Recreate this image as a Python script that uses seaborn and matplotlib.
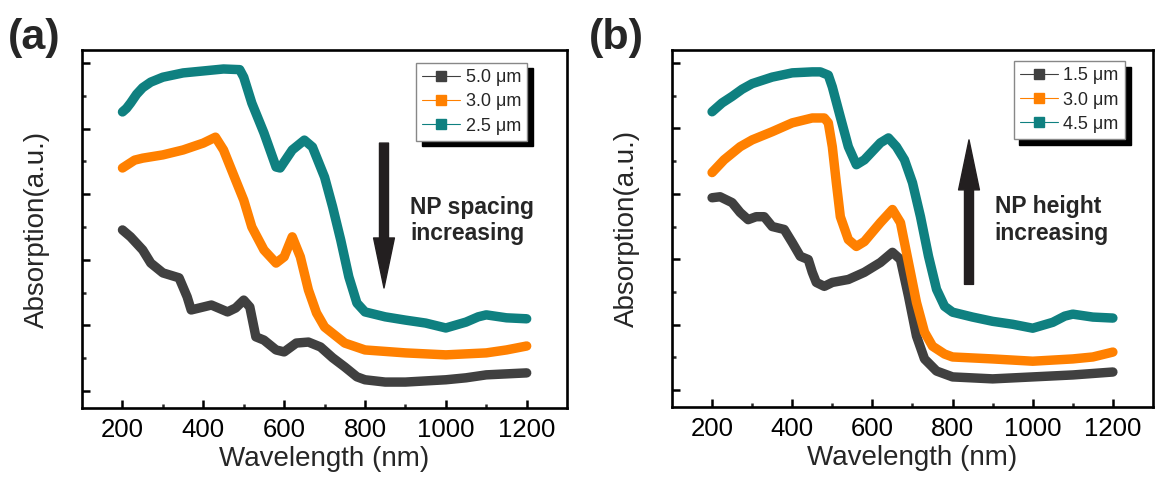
import numpy as np
import pandas as pd
import matplotlib.pyplot as plt
from matplotlib.lines import Line2D
import seaborn as sns

# ── Data (arbitrary absorption units) ────────────────────────────────────────
# panel (a): NP spacing series
A_DARK_NM = [200, 220, 250, 270, 300, 340, 360, 370, 400, 420, 460, 480, 500, 515, 530,
             550, 580, 600, 630, 660, 690, 720, 750, 780, 800, 850, 900, 1000, 1050, 1100, 1200]
A_DARK_Y = [4.91, 4.70, 4.30, 3.90, 3.60, 3.45, 2.87, 2.47, 2.56, 2.62, 2.41, 2.53, 2.77, 2.56, 1.65,
            1.55, 1.25, 1.19, 1.46, 1.49, 1.34, 1.01, 0.73, 0.43, 0.34, 0.27, 0.27, 0.34, 0.40, 0.49, 0.55]

A_ORANGE_NM = [200, 230, 250, 300, 350, 400, 430, 450, 480, 500, 520, 550, 580, 600, 620,
               640, 660, 680, 700, 750, 800, 900, 1000, 1100, 1150, 1200]
A_ORANGE_Y = [6.80, 7.04, 7.10, 7.20, 7.35, 7.56, 7.74, 7.35, 6.43, 5.82, 5.00, 4.30, 3.90, 4.09, 4.70,
              4.09, 3.08, 2.38, 1.95, 1.46, 1.25, 1.16, 1.10, 1.16, 1.25, 1.37]

A_TEAL_NM = [200, 210, 220, 235, 250, 270, 300, 350, 400, 450, 490, 500, 520, 550, 580, 590, 620, 650, 670,
             700, 720, 740, 760, 780, 800, 850, 900, 950, 1000, 1050, 1080, 1100, 1150, 1200]
A_TEAL_Y = [8.51, 8.62, 8.78, 9.05, 9.25, 9.42, 9.57, 9.70, 9.76, 9.82, 9.80, 9.57, 8.78, 7.87, 6.83, 6.80, 7.35, 7.65, 7.44,
            6.52, 5.61, 4.60, 3.48, 2.68, 2.41, 2.26, 2.16, 2.07, 1.92, 2.10, 2.26, 2.32, 2.23, 2.20]

# panel (b): NP height series
B_DARK_NM = [200, 220, 250, 270, 290, 310, 330, 350, 380, 400, 420, 440, 450, 460, 480, 500, 540,
             580, 620, 650, 670, 690, 710, 730, 760, 800, 900, 1000, 1100, 1200]
B_DARK_Y = [5.88, 5.91, 5.73, 5.43, 5.21, 5.30, 5.30, 5.00, 4.91, 4.51, 4.09, 3.99, 3.60, 3.29, 3.17, 3.29, 3.38,
            3.60, 3.90, 4.21, 3.99, 2.87, 1.65, 0.95, 0.58, 0.40, 0.34, 0.40, 0.46, 0.55]

B_ORANGE_NM = [200, 230, 270, 300, 350, 400, 450, 480, 490, 500, 510, 520, 540, 560, 580, 620, 650,
               670, 690, 710, 730, 750, 780, 800, 900, 1000, 1100, 1150, 1200]
B_ORANGE_Y = [6.65, 7.04, 7.44, 7.65, 7.90, 8.17, 8.32, 8.32, 8.17, 7.44, 6.34, 5.30, 4.60, 4.39, 4.54, 5.12, 5.52,
              5.12, 3.90, 2.68, 1.77, 1.34, 1.10, 1.01, 0.95, 0.88, 0.95, 1.01, 1.16]

B_TEAL_NM = [200, 225, 250, 275, 300, 350, 400, 450, 470, 490, 500, 520, 540, 560, 580, 620, 640, 660, 680,
             700, 720, 740, 760, 780, 800, 850, 900, 950, 1000, 1050, 1080, 1100, 1150, 1200]
B_TEAL_Y = [8.51, 8.78, 8.98, 9.20, 9.37, 9.57, 9.70, 9.73, 9.73, 9.63, 9.27, 8.35, 7.44, 6.89, 7.04, 7.56, 7.71, 7.44, 7.04,
            6.34, 5.30, 4.09, 3.08, 2.56, 2.38, 2.23, 2.10, 2.01, 1.89, 2.07, 2.26, 2.32, 2.23, 2.20]

A_LABELS = ["5.0 μm", "3.0 μm", "2.5 μm"]
B_LABELS = ["1.5 μm", "3.0 μm", "4.5 μm"]
COLORS = ["#404040", "#ff8000", "#0f8080"]

X_TICKS = [200, 400, 600, 800, 1000, 1200]


def long_frame(series, labels):
    rows = []
    for (nm, y), lab in zip(series, labels):
        rows.append(pd.DataFrame({"nm": nm, "absorption": y, "series": lab}))
    return pd.concat(rows, ignore_index=True)


sns.set_theme(style="ticks")
plt.rcParams["font.family"] = ["Liberation Sans", "DejaVu Sans"]

fig = plt.figure(figsize=(11.59, 4.88), dpi=100)
ax_a = fig.add_axes([0.0708, 0.164, 0.4185, 0.7336])
ax_b = fig.add_axes([0.5798, 0.166, 0.4150, 0.7316])

panels = [
    (ax_a, [(A_DARK_NM, A_DARK_Y), (A_ORANGE_NM, A_ORANGE_Y), (A_TEAL_NM, A_TEAL_Y)], A_LABELS,
     (0.918, 0.964), 847, (7.56, 3.14), 912, "NP spacing\nincreasing"),
    (ax_b, [(B_DARK_NM, B_DARK_Y), (B_ORANGE_NM, B_ORANGE_Y), (B_TEAL_NM, B_TEAL_Y)], B_LABELS,
     (0.942, 0.969), 841, (3.23, 7.65), 905, "NP height\nincreasing"),
]

for ax, series, labels, leg_anchor, arrow_x, (y_from, y_to), text_x, text in panels:
    df = long_frame(series, labels)
    sns.lineplot(data=df, x="nm", y="absorption", hue="series", hue_order=labels,
                 palette=COLORS, linewidth=6.8, estimator=None, sort=True,
                 legend=False, ax=ax)

    ax.set_xlim(100, 1300)
    ax.set_ylim(-0.52, 10.4)
    ax.set_xticks(X_TICKS)
    ax.set_xticks(np.arange(300, 1200, 200), minor=True)
    ax.set_yticks(np.arange(0, 11, 2))
    ax.set_yticks(np.arange(1, 10, 2), minor=True)
    ax.set_yticklabels([])
    ax.tick_params(which="major", direction="in", length=6, width=1.8,
                   labelsize=18.5, pad=7, colors="black")
    ax.tick_params(which="minor", direction="in", length=3, width=1.8)
    for sp in ax.spines.values():
        sp.set_visible(True)
        sp.set_linewidth(1.9)
        sp.set_color("black")

    ax.set_xlabel("Wavelength (nm)", fontsize=20, labelpad=3)
    ax.set_ylabel("Absorption(a.u.)", fontsize=20, labelpad=16)

    handles = [Line2D([], [], color=c, lw=0.8, marker="s", markersize=7) for c in COLORS]
    leg = ax.legend(handles, labels, loc="upper right", bbox_to_anchor=leg_anchor,
                    borderaxespad=0, fontsize=13, handlelength=2.1, handletextpad=0.3,
                    labelspacing=0.4, borderpad=0.35, fancybox=False, framealpha=1,
                    edgecolor="#888888",
                    shadow={"ox": 4, "oy": -4, "facecolor": "black",
                            "edgecolor": "black", "alpha": 1})
    leg.get_frame().set_linewidth(1.0)

    ax.annotate("", xy=(arrow_x, y_to), xytext=(arrow_x, y_from),
                arrowprops=dict(width=6.5, headwidth=15, headlength=36,
                                facecolor="#231f20", edgecolor="#231f20"))
    ax.text(text_x, 5.2, text, fontsize=16.5, fontweight="bold",
            ha="left", va="center", linespacing=1.2)

fig.text(0.007, 0.922, "(a)", fontsize=31, fontweight="bold", ha="left", va="center")
fig.text(0.508, 0.922, "(b)", fontsize=31, fontweight="bold", ha="left", va="center")

fig.savefig("out.png", dpi=100)
